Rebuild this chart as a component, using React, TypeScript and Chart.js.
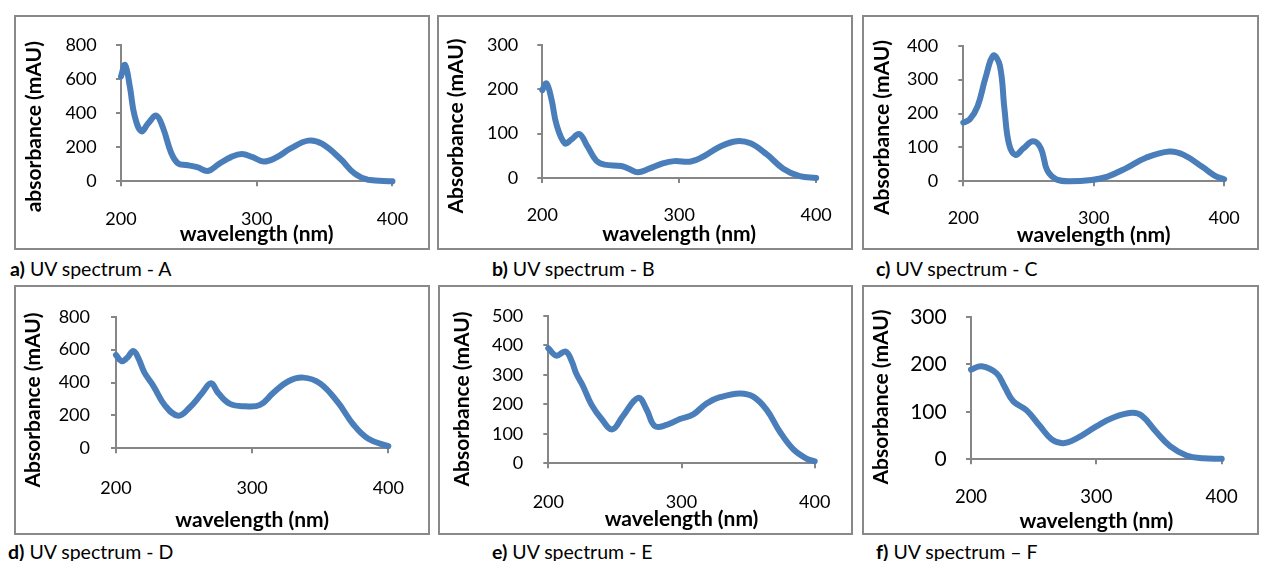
import React, { useEffect, useRef } from "react";
import { Chart, registerables } from "chart.js";

Chart.register(...registerables);

// ---------- DATA ----------
const xTicks = [200, 300, 400];

const waveA = [200, 203, 206.6, 210, 215, 220, 226, 231, 237, 242, 248, 256, 264, 272, 281, 289, 297, 305, 314, 325, 338, 348, 362, 372, 382, 400];
const absA = [616, 684, 552, 386, 294, 340, 386, 313, 166, 105, 96, 83, 61, 101, 142, 160, 142, 116, 138, 193, 239, 221, 129, 46, 9, 0];

const waveB = [200, 203, 206.8, 210.4, 216.5, 221, 227, 233, 239.5, 245.5, 257.6, 263.7, 269.7, 278, 288, 296.4, 308.5, 318, 330, 342, 352, 364, 376, 388, 400];
const absB = [198, 213, 176, 120, 78, 86, 99, 71, 39, 30, 27, 20, 13, 21, 33, 38, 37, 49, 71, 83, 78, 53, 21, 4, 0];

const waveC = [200, 205, 211, 217, 223, 228, 231.6, 235, 240, 246, 253.5, 259.5, 264.4, 271.7, 281.4, 298.4, 310.6, 325, 339.7, 358, 369, 383.5, 393, 400];
const absC = [173, 183, 222, 305, 371, 342, 212, 111, 78, 97, 118, 97, 32, 5, 0, 4, 14, 39, 69, 88, 78, 42, 16, 6];

const waveD = [200, 204, 208, 212.7, 216.4, 220.8, 227.4, 236, 245.8, 254.3, 263, 269.8, 275, 283.7, 294.7, 305.8, 315.5, 326.6, 337.6, 349.8, 363, 374.3, 385.3, 400];
const absD = [568, 530, 549, 592, 549, 462, 380, 260, 198, 250, 333, 395, 337, 270, 256, 264, 337, 408, 430, 395, 279, 145, 58, 13];

const waveE = [200, 206, 213, 217.5, 221, 226, 232.5, 240, 248, 256, 267.5, 273.8, 280, 288.8, 298.8, 308.8, 318.8, 328.8, 343.8, 353.8, 363.8, 373.8, 383.8, 393.8, 400];
const absE = [390, 365, 379, 347, 304, 262, 198, 150, 115, 160, 222, 182, 126, 130, 150, 166, 203, 224, 237, 226, 182, 107, 48, 16, 7];

const waveF = [200, 208.5, 220.5, 227, 233.8, 244.4, 255, 264.4, 273.7, 284.3, 300.3, 313.6, 328.2, 336.2, 348, 358.8, 372, 385.4, 400];
const absF = [189, 196, 181, 152, 122, 103, 70, 42, 34, 44, 70, 88, 98, 92, 57, 28, 8, 2, 1];

const yMaxA = 800, yStepA = 200;
const yMaxB = 300, yStepB = 100;
const yMaxC = 400, yStepC = 100;
const yMaxD = 800, yStepD = 200;
const yMaxE = 500, yStepE = 100;
const yMaxF = 300, yStepF = 100;

const yTitleA = "absorbance (mAU)";
const yTitleOthers = "Absorbance (mAU)";
const xTitle = "wavelength (nm)";

const captionTags = ["a)", "b)", "c)", "d)", "e)", "f)"];
const captionTexts = [" UV spectrum - A", " UV spectrum - B", " UV spectrum - C", " UV spectrum - D", " UV spectrum - E", " UV spectrum \u2013 F"];

// ---------- STYLE / LAYOUT ----------
const FONT = "Lato, 'Open Sans', sans-serif";
const LINE_COLOR = "#4A7EBB";
const AXIS_COLOR = "#868686";
const FRAME_COLOR = "#898989";
const TICK_LEN = 5;
const TITLE_SIZE = 21;
const CAPTION_SIZE = 19.5;

type Box = { l: number; t: number; r: number; b: number };

type PanelDef = {
  wave: number[];
  abs: number[];
  yMax: number;
  yStep: number;
  yTitle: string;
  frame: Box;
  canvasR: number;
  area: Box;
  yTitlePos: { x: number; y: number };
  xTitleY: number;
  xLabelY: number;
  yLabelRight: number;
  xTickSize: number;
  yTickSize: number;
};

const panels: PanelDef[] = [
  {
    wave: waveA, abs: absA, yMax: yMaxA, yStep: yStepA, yTitle: yTitleA,
    frame: { l: 14, t: 15, r: 430, b: 250 }, canvasR: 430,
    area: { l: 121, t: 36.3, r: 395, b: 181.3 },
    yTitlePos: { x: 34.5, y: 126.7 }, xTitleY: 234, xLabelY: 219, yLabelRight: 96.7,
    xTickSize: 18, yTickSize: 18,
  },
  {
    wave: waveB, abs: absB, yMax: yMaxB, yStep: yStepB, yTitle: yTitleOthers,
    frame: { l: 437, t: 15, r: 853, b: 250 }, canvasR: 853,
    area: { l: 542.3, t: 36.3, r: 817.7, b: 178 },
    yTitlePos: { x: 456.3, y: 126 }, xTitleY: 234, xLabelY: 215, yLabelRight: 518.3,
    xTickSize: 18, yTickSize: 18,
  },
  {
    wave: waveC, abs: absC, yMax: yMaxC, yStep: yStepC, yTitle: yTitleOthers,
    frame: { l: 862, t: 15, r: 1259, b: 250 }, canvasR: 1261,
    area: { l: 963.3, t: 37, r: 1237.7, b: 181.3 },
    yTitlePos: { x: 882.5, y: 127.5 }, xTitleY: 235.5, xLabelY: 218.3, yLabelRight: 938.3,
    xTickSize: 18, yTickSize: 18,
  },
  {
    wave: waveD, abs: absD, yMax: yMaxD, yStep: yStepD, yTitle: yTitleOthers,
    frame: { l: 14, t: 285, r: 430, b: 535 }, canvasR: 430,
    area: { l: 116, t: 310, r: 388.3, b: 448.3 },
    yTitlePos: { x: 33.3, y: 400 }, xTitleY: 520, xLabelY: 488.3, yLabelRight: 90,
    xTickSize: 18, yTickSize: 18,
  },
  {
    wave: waveE, abs: absE, yMax: yMaxE, yStep: yStepE, yTitle: yTitleOthers,
    frame: { l: 438, t: 285, r: 853, b: 535 }, canvasR: 853,
    area: { l: 548.3, t: 307.3, r: 815, b: 463.3 },
    yTitlePos: { x: 462.5, y: 399 }, xTitleY: 519, xLabelY: 501.7, yLabelRight: 523.3,
    xTickSize: 18, yTickSize: 18,
  },
  {
    wave: waveF, abs: absF, yMax: yMaxF, yStep: yStepF, yTitle: yTitleOthers,
    frame: { l: 862, t: 285, r: 1259, b: 535 }, canvasR: 1261,
    area: { l: 971, t: 305.7, r: 1221.7, b: 459.3 },
    yTitlePos: { x: 880.8, y: 397 }, xTitleY: 521, xLabelY: 496.7, yLabelRight: 946.7,
    xTickSize: 18.5, yTickSize: 21,
  },
];

const captionPos = [
  { x: 10, y: 269 },
  { x: 492, y: 269 },
  { x: 876, y: 269 },
  { x: 8, y: 552 },
  { x: 492, y: 552 },
  { x: 876, y: 552 },
];

const yTitlePlugin = {
  id: "yTitleAt",
  afterDraw(chart: any, _args: any, opts: any) {
    const ctx = chart.ctx;
    ctx.save();
    ctx.translate(opts.x, opts.y);
    ctx.rotate(-Math.PI / 2);
    ctx.font = `bold ${opts.size}px ${FONT}`;
    ctx.fillStyle = "#000";
    ctx.textAlign = "center";
    ctx.textBaseline = "middle";
    ctx.fillText(opts.text, 0, 0);
    ctx.restore();
  },
};

function Panel({ p }: { p: PanelDef }) {
  const ref = useRef<HTMLCanvasElement | null>(null);
  const cL = p.frame.l;
  const cT = p.frame.t;
  const cW = p.canvasR - p.frame.l;
  const cH = p.frame.b - p.frame.t;

  useEffect(() => {
    if (!ref.current) return;
    const xLH = p.xTickSize * 1.2;
    const titleLH = TITLE_SIZE * 1.2;
    const chart = new Chart(ref.current, {
      type: "line",
      data: {
        datasets: [
          {
            data: p.wave.map((w, i) => ({ x: w, y: p.abs[i] })),
            borderColor: LINE_COLOR,
            borderWidth: 6,
            pointRadius: 0,
            tension: 0.4,
            fill: false,
            clip: false as any,
            borderCapStyle: "round",
            borderJoinStyle: "round",
          },
        ],
      },
      plugins: [yTitlePlugin as any],
      options: {
        animation: false,
        responsive: false,
        devicePixelRatio: 1,
        events: [],
        layout: {
          padding: { left: 0, top: p.area.t - cT, right: p.canvasR - p.area.r, bottom: 0 },
        },
        plugins: {
          legend: { display: false },
          tooltip: { enabled: false },
          yTitleAt: { text: p.yTitle, x: p.yTitlePos.x - cL, y: p.yTitlePos.y - cT, size: TITLE_SIZE },
        } as any,
        scales: {
          x: {
            type: "linear",
            min: 200,
            max: 400,
            afterBuildTicks: (s: any) => {
              s.ticks = xTicks.map((v) => ({ value: v }));
            },
            afterFit: (s: any) => {
              s.height = p.frame.b - p.area.b;
            },
            ticks: {
              font: { family: FONT, size: p.xTickSize },
              color: "#000",
              padding: p.xLabelY - p.area.b - TICK_LEN - xLH / 2,
              maxRotation: 0,
            },
            grid: { display: true, drawOnChartArea: false, drawTicks: true, tickLength: TICK_LEN, color: AXIS_COLOR, lineWidth: 2 },
            border: { display: true, color: AXIS_COLOR, width: 2 },
            title: {
              display: true,
              text: xTitle,
              color: "#000",
              font: { family: FONT, size: TITLE_SIZE, weight: "bold" },
              padding: { top: 0, bottom: p.frame.b - p.xTitleY - titleLH / 2 },
            },
          },
          y: {
            type: "linear",
            min: 0,
            max: p.yMax,
            afterFit: (s: any) => {
              s.width = p.area.l - cL;
            },
            ticks: {
              stepSize: p.yStep,
              font: { family: FONT, size: p.yTickSize },
              color: "#000",
              padding: p.area.l - TICK_LEN - p.yLabelRight,
            },
            grid: { display: true, drawOnChartArea: false, drawTicks: true, tickLength: TICK_LEN, color: AXIS_COLOR, lineWidth: 2 },
            border: { display: true, color: AXIS_COLOR, width: 2 },
          },
        },
      } as any,
    });
    return () => chart.destroy();
  }, []);

  return (
    <>
      <div
        style={{
          position: "absolute",
          left: p.frame.l,
          top: p.frame.t,
          width: p.frame.r - p.frame.l,
          height: p.frame.b - p.frame.t,
          border: `2px solid ${FRAME_COLOR}`,
          boxSizing: "border-box",
        }}
      />
      <canvas
        ref={ref}
        width={cW}
        height={cH}
        style={{ position: "absolute", left: cL, top: cT, width: cW, height: cH }}
      />
    </>
  );
}

export default function App() {
  return (
    <div
      style={{
        position: "absolute",
        left: 0,
        top: 0,
        width: 1261,
        height: 561,
        overflow: "hidden",
        background: "#fff",
        fontFamily: FONT,
      }}
    >
      {panels.map((p, i) => (
        <Panel key={i} p={p} />
      ))}
      {captionTags.map((tag, i) => (
        <div
          key={"c" + i}
          style={{
            position: "absolute",
            left: captionPos[i].x,
            top: captionPos[i].y - 11,
            height: 22,
            lineHeight: "22px",
            fontSize: CAPTION_SIZE,
            whiteSpace: "pre",
            color: "#000",
          }}
        >
          <b>{tag}</b>
          {captionTexts[i]}
        </div>
      ))}
    </div>
  );
}
